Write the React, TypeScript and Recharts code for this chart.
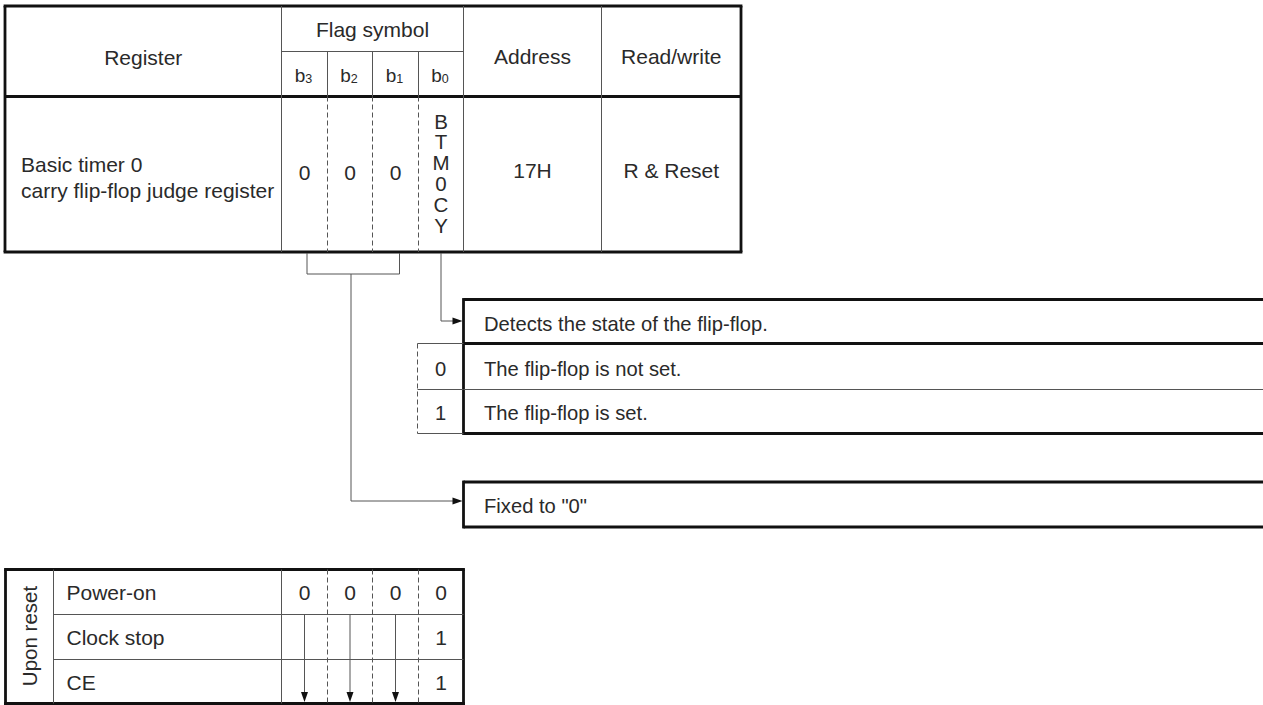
import React from "react";
import { ComposedChart, XAxis, YAxis, ReferenceLine, ReferenceDot } from "recharts";

// ---------- content ----------
const headerTitles = ["Register", "Flag symbol", "Address", "Read/write"];
const bitNames = ["3", "2", "1", "0"];
const registerLines = ["Basic timer 0", "carry flip-flop judge register"];
const fixedBitValues = ["0", "0", "0"];
const flagName = ["B", "T", "M", "0", "C", "Y"];
const addressValue = "17H";
const accessValue = "R & Reset";
const flagDescription = "Detects the state of the flip-flop.";
const flagStates = ["0", "1"];
const flagStateTexts = ["The flip-flop is not set.", "The flip-flop is set."];
const fixedText = 'Fixed to "0"';
const resetTitle = "Upon reset";
const resetConditions = ["Power-on", "Clock stop", "CE"];
const resetPowerOn = ["0", "0", "0", "0"];
const resetLaterB0 = ["1", "1"];

// ---------- layout ----------
const W = 1263;
const H = 705;
const FONT = '"Liberation Sans", Arial, Helvetica, sans-serif';
const TXT = "#2a2a2a";
const THIN = "#555";
const THICK = "#111";
const TW = 2.8;
const FS = 21;
const FS_DESC = 20.2;

const tL = 5, tR = 741, tT = 6, tS = 51.5, tHB = 96.5, tB = 252;
const cols = [281.5, 327.5, 372.5, 418.5, 463.5];
const addrR = 601.5;
const bitCenters = [0, 1, 2, 3].map((i) => (cols[i] + cols[i + 1]) / 2);

const boxL = 463.5, boxR = W;
const bY = [299.5, 343.5, 389.5, 433.5];
const fY = [482, 527];
const dashL = 417.5;

const rT = 569.5, rRows = [614.5, 659.5], rB = 703.5, rL = 5.5, rC1 = 53.5;

type Kind = "thick" | "thin" | "dash";

const seg = (key: string, x1: number, y1: number, x2: number, y2: number, kind: Kind) => (
  <ReferenceLine
    key={key}
    segment={[{ x: x1, y: y1 }, { x: x2, y: y2 }]}
    stroke={kind === "thick" ? THICK : THIN}
    strokeWidth={kind === "thick" ? TW : 1}
    strokeDasharray={kind === "dash" ? "5 3" : undefined}
    ifOverflow="visible"
  />
);

const label = (
  key: string,
  x: number,
  y: number,
  content: React.ReactNode,
  anchor: "start" | "middle" | "end" = "middle",
  size: number = FS,
  rotate = 0
) => (
  <ReferenceDot
    key={key}
    x={x}
    y={y}
    r={1}
    ifOverflow="visible"
    shape={(p: any) => (
      <text
        x={p.cx}
        y={p.cy}
        textAnchor={anchor}
        fontFamily={FONT}
        fontSize={size}
        fill={TXT}
        transform={rotate ? `rotate(${rotate} ${p.cx} ${p.cy})` : undefined}
      >
        {content}
      </text>
    )}
  />
);

const arrow = (key: string, x: number, y: number, dir: "right" | "down") => (
  <ReferenceDot
    key={key}
    x={x}
    y={y}
    r={1}
    ifOverflow="visible"
    shape={(p: any) => {
      const cx = p.cx, cy = p.cy;
      const pts =
        dir === "right"
          ? `${cx},${cy} ${cx - 10},${cy - 3.5} ${cx - 10},${cy + 3.5}`
          : `${cx},${cy} ${cx - 3.5},${cy - 10} ${cx + 3.5},${cy - 10}`;
      return <polygon points={pts} fill={THICK} stroke="none" />;
    }}
  />
);

export default function App() {
  const els: React.ReactNode[] = [];

  // ---- top register table ----
  els.push(seg("t-top", tL - 1.4, tT, tR + 1.4, tT, "thick"));
  els.push(seg("t-bot", tL - 1.4, tB, tR + 1.4, tB, "thick"));
  els.push(seg("t-left", tL, tT, tL, tB, "thick"));
  els.push(seg("t-right", tR, tT, tR, tB, "thick"));
  els.push(seg("t-hb", tL, tHB, tR, tHB, "thick"));
  els.push(seg("t-c0", cols[0], tT, cols[0], tB, "thin"));
  els.push(seg("t-c4", cols[4], tT, cols[4], tB, "thin"));
  els.push(seg("t-addr", addrR, tT, addrR, tB, "thin"));
  els.push(seg("t-split", cols[0], tS, cols[4], tS, "thin"));
  [1, 2, 3].forEach((i) => {
    els.push(seg(`t-bh${i}`, cols[i], tS, cols[i], tHB, "thin"));
    els.push(seg(`t-bd${i}`, cols[i], tHB, cols[i], tB, "dash"));
  });

  // header texts
  els.push(label("h-reg", (tL + cols[0]) / 2, 65, headerTitles[0]));
  els.push(label("h-flag", (cols[0] + cols[4]) / 2, 37, headerTitles[1]));
  els.push(label("h-addr", (cols[4] + addrR) / 2, 64, headerTitles[2]));
  els.push(label("h-rw", (addrR + tR) / 2, 64, headerTitles[3]));
  bitNames.forEach((n, i) =>
    els.push(
      label(
        `h-b${i}`,
        bitCenters[i] - 1,
        82,
        <>
          <tspan>b</tspan>
          <tspan fontSize={12.5} dy={0.5}>{n}</tspan>
        </>,
        "middle",
        19
      )
    )
  );

  // body texts
  registerLines.forEach((t, i) => els.push(label(`r-${i}`, 21, 172 + i * 26, t, "start")));
  fixedBitValues.forEach((v, i) => els.push(label(`v-${i}`, bitCenters[i], 180, v)));
  els.push(
    <ReferenceDot
      key="flagname"
      x={bitCenters[3]}
      y={128.5}
      r={1}
      ifOverflow="visible"
      shape={(p: any) => (
        <text x={p.cx} y={p.cy} textAnchor="middle" fontFamily={FONT} fontSize={20.5} fill={TXT}>
          {flagName.map((c, i) => (
            <tspan key={i} x={p.cx} dy={i === 0 ? 0 : 20.8}>
              {c}
            </tspan>
          ))}
        </text>
      )}
    />
  );
  els.push(label("addr", (cols[4] + addrR) / 2, 178, addressValue));
  els.push(label("rw", (addrR + tR) / 2, 178, accessValue));

  // ---- connectors ----
  const braceL = 307, braceR = 399.5, braceY = 274, braceX = 351;
  els.push(seg("br-l", braceL, tB + 1, braceL, braceY, "thin"));
  els.push(seg("br-r", braceR, tB + 1, braceR, braceY, "thin"));
  els.push(seg("br-h", braceL, braceY, braceR, braceY, "thin"));
  els.push(seg("br-v", braceX, braceY, braceX, 501, "thin"));
  els.push(seg("br-a", braceX, 501, 454, 501, "thin"));
  els.push(arrow("br-ah", 462.5, 501, "right"));

  els.push(seg("f-v", bitCenters[3], tB + 1, bitCenters[3], 321, "thin"));
  els.push(seg("f-a", bitCenters[3], 321, 454, 321, "thin"));
  els.push(arrow("f-ah", 462.5, 321, "right"));

  // ---- description boxes ----
  els.push(seg("d-left", boxL, bY[0] - 1.4, boxL, bY[3] + 1.4, "thick"));
  els.push(seg("d-top", boxL, bY[0], boxR, bY[0], "thick"));
  els.push(seg("d-l1", boxL, bY[1], boxR, bY[1], "thick"));
  els.push(seg("d-l2", boxL, bY[2], boxR, bY[2], "thin"));
  els.push(seg("d-bot", boxL, bY[3], boxR, bY[3], "thick"));
  els.push(seg("dd-l", dashL, bY[1], dashL, bY[3], "dash"));
  els.push(seg("dd-t", dashL, bY[1], boxL, bY[1], "thin"));
  els.push(seg("dd-m", dashL, bY[2], boxL, bY[2], "thin"));
  els.push(seg("dd-b", dashL, bY[3], boxL, bY[3], "thin"));
  els.push(label("d-desc", 484, 331, flagDescription, "start", FS_DESC));
  flagStateTexts.forEach((t, i) => els.push(label(`d-st${i}`, 484, 376 + i * 44, t, "start", FS_DESC)));
  flagStates.forEach((s, i) => els.push(label(`d-sv${i}`, (dashL + boxL) / 2, 376 + i * 44, s, "middle", FS_DESC)));

  els.push(seg("fx-left", boxL, fY[0] - 1.4, boxL, fY[1] + 1.4, "thick"));
  els.push(seg("fx-top", boxL, fY[0], boxR, fY[0], "thick"));
  els.push(seg("fx-bot", boxL, fY[1], boxR, fY[1], "thick"));
  els.push(label("fx-t", 484, 513, fixedText, "start", FS_DESC));

  // ---- reset table ----
  els.push(seg("rs-top", rL - 1.4, rT, cols[4] + 1.4, rT, "thick"));
  els.push(seg("rs-bot", rL - 1.4, rB, cols[4] + 1.4, rB, "thick"));
  els.push(seg("rs-left", rL, rT, rL, H, "thick"));
  els.push(seg("rs-right", cols[4], rT, cols[4], H, "thick"));
  els.push(seg("rs-c1", rC1, rT, rC1, rB, "thin"));
  els.push(seg("rs-c2", cols[0], rT, cols[0], rB, "thin"));
  rRows.forEach((y, i) => els.push(seg(`rs-row${i}`, rC1, y, cols[4], y, "thin")));
  [1, 2, 3].forEach((i) => els.push(seg(`rs-d${i}`, cols[i], rT, cols[i], rB, "dash")));
  [0, 1, 2].forEach((i) => {
    els.push(seg(`rs-ar${i}`, bitCenters[i], rRows[0], bitCenters[i], 694, "thin"));
    els.push(arrow(`rs-ah${i}`, bitCenters[i], 702, "down"));
  });
  els.push(label("rs-title", 37, 636, resetTitle, "middle", 20.5, -90));
  resetConditions.forEach((c, i) => els.push(label(`rs-c${i}`, 66.5, 600 + i * 45, c, "start")));
  resetPowerOn.forEach((v, i) => els.push(label(`rs-p${i}`, bitCenters[i], 600, v)));
  resetLaterB0.forEach((v, i) => els.push(label(`rs-l${i}`, bitCenters[3], 645 + i * 45, v)));

  return (
    <div style={{ position: "absolute", left: 0, top: 0, width: W, height: H, background: "#fff" }}>
      <ComposedChart width={W} height={H} data={[]} margin={{ top: 0, right: 0, bottom: 0, left: 0 }}>
        <XAxis type="number" dataKey="x" domain={[0, W]} hide allowDataOverflow />
        <YAxis type="number" dataKey="y" domain={[0, H]} reversed hide allowDataOverflow />
        {els}
      </ComposedChart>
    </div>
  );
}
